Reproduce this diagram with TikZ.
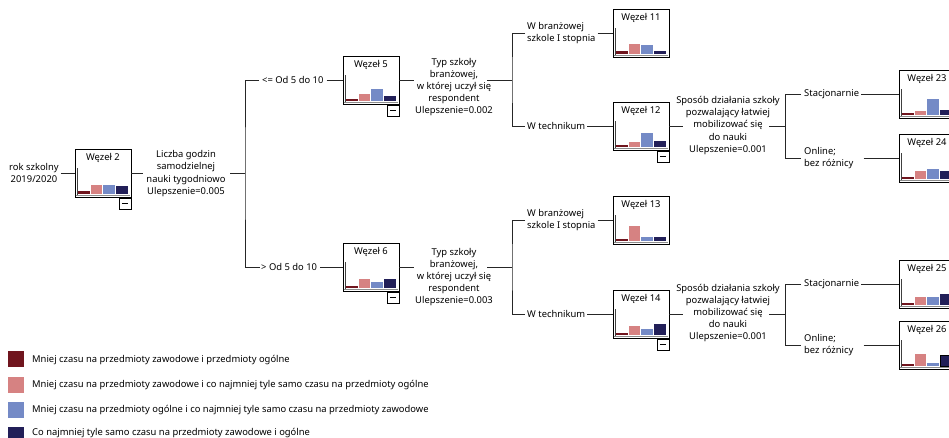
\documentclass[tikz,border=0pt]{standalone}
\usepackage{fontspec}
\setmainfont{Noto Sans}
\definecolor{cA}{RGB}{112,21,30}
\definecolor{cB}{RGB}{214,130,130}
\definecolor{cC}{RGB}{116,138,198}
\definecolor{cD}{RGB}{34,31,88}
\tikzset{
  box/.style={draw=black, line width=0.8pt, fill=white, minimum width=56pt, minimum height=48pt, inner sep=0pt},
  lbl/.style={inner sep=0pt, align=center},
  lbll/.style={inner sep=0pt, align=left, anchor=west},
  conn/.style={line width=0.8pt, draw=black!85},
  minusbox/.style={draw=black, line width=0.6pt, minimum width=12pt, minimum height=11pt, inner sep=0pt, anchor=north east, fill=white},
  legsq/.style={minimum width=16pt, minimum height=16pt, inner sep=0pt, anchor=north west},
  legtx/.style={inner sep=0pt, anchor=west}
}
\newcommand\wezel[7]{%
  \node[box] (#1) at (#2) {};
  \node[inner sep=0pt] (#1t) at ([yshift=-9pt]#1.north) {#3};
  \draw[black!45, line width=1.6pt] ([xshift=1pt,yshift=2pt]#1.south west) -- ([xshift=-1pt,yshift=2pt]#1.south east);
  \draw[black!75, line width=0.7pt] ([xshift=2.7pt,yshift=2pt]#1.south west) -- ++(0pt,27pt);
  \fill[cA] ([xshift=3.2pt,yshift=3pt]#1.south west) rectangle ++(11.8pt,#4pt);
  \fill[cB] ([xshift=16pt,yshift=3pt]#1.south west) rectangle ++(11.8pt,#5pt);
  \fill[cC] ([xshift=28.8pt,yshift=3pt]#1.south west) rectangle ++(11.8pt,#6pt);
  \fill[cD] ([xshift=41.6pt,yshift=3pt]#1.south west) rectangle ++(11.8pt,#7pt);
}
\newcommand\minusmark[1]{%
  \node[minusbox] (#1m) at ([yshift=-1pt]#1.south east) {};
  \draw[line width=0.7pt] ([xshift=3pt,yshift=-5pt]#1m.north west) -- ++(6pt,0pt);
}
\begin{document}
\begin{tikzpicture}[x=1pt, y=-1pt, font=\fontsize{9.4}{12.2}\selectfont]
\useasboundingbox (0,0) rectangle (949,438);
\clip (0,0) rectangle (949,438);
\fill[white] (0,0) rectangle (949,438);

% tree nodes
\wezel{n2}{103,173}{Węzeł 2}{3.3}{9.3}{9.3}{8.3}
\wezel{n5}{371,80}{Węzeł 5}{2.7}{7}{12}{5}
\wezel{n6}{371,267}{Węzeł 6}{2}{9.7}{6}{9.7}
\wezel{n11}{641,33}{Węzeł 11}{3.5}{10.7}{9}{3.7}
\wezel{n12}{641,126}{Węzeł 12}{2}{5}{14}{6}
\wezel{n13}{641,220}{Węzeł 13}{2.5}{15.3}{4.3}{4.3}
\wezel{n14}{641,314}{Węzeł 14}{2}{9}{6}{11.3}
\wezel{n23}{927,94}{Węzeł 23}{2.3}{4.3}{16}{5}
\wezel{n24}{927,158}{Węzeł 24}{2.3}{8.3}{10.3}{8.3}
\wezel{n25}{927,284}{Węzeł 25}{2.5}{8.3}{8.3}{11.7}
\wezel{n26}{927,345}{Węzeł 26}{2}{12}{3}{11}
\draw[black, line width=0.8pt] ([xshift=41.6pt,yshift=3pt]n26.south west) rectangle ++(11.8pt,11pt);
\minusmark{n2}
\minusmark{n5}
\minusmark{n6}
\minusmark{n12}
\minusmark{n14}

% labels
\node[lbl] (root) at (34,173) {rok szkolny\\2019/2020};
\node[lbl] (s2) at (186,173.5) {Liczba godzin\\samodzielnej\\nauki tygodniowo\\Ulepszenie=0.005};
\node[lbll] (e5) at (262,80) {<= Od 5 do 10};
\node[lbll] (e6) at (261,267) {> Od 5 do 10};
\node[lbl] (s5) at (454,87) {Typ szkoły\\branżowej,\\w której uczył się\\respondent\\Ulepszenie=0.002};
\node[lbl] (s6) at (454,277) {Typ szkoły\\branżowej,\\w której uczył się\\respondent\\Ulepszenie=0.003};
\node[lbll] (e11) at (527,33) {W branżowej\\szkole I stopnia};
\node[lbll] (e12) at (527,126) {W technikum};
\node[lbll] (e13) at (527,220) {W branżowej\\szkole I stopnia};
\node[lbll] (e14) at (527,314) {W technikum};
\node[lbl] (s12) at (728,125.5) {Sposób działania szkoły\\pozwalający łatwiej\\mobilizować się\\do nauki\\Ulepszenie=0.001};
\node[lbl] (s14) at (728,313) {Sposób działania szkoły\\pozwalający łatwiej\\mobilizować się\\do nauki\\Ulepszenie=0.001};
\node[lbll] (e23) at (804,94) {Stacjonarnie};
\node[lbll] (e24) at (804,158) {Online;\\bez różnicy};
\node[lbll] (e25) at (804,284) {Stacjonarnie};
\node[lbll] (e26) at (804,345) {Online;\\bez różnicy};

% gap coordinates
\coordinate (g2a) at (143,173);
\coordinate (g2b) at (230,173);
\coordinate (bus1) at (245,173);
\coordinate (g5a) at (414,80);
\coordinate (g5b) at (487,80);
\coordinate (bus5) at (512,80);
\coordinate (g6a) at (414,267);
\coordinate (g6b) at (487,267);
\coordinate (bus6) at (512,267);
\coordinate (g12a) at (683,126);
\coordinate (g12b) at (769,126);
\coordinate (bus12) at (785,126);
\coordinate (g14a) at (683,314);
\coordinate (g14b) at (769,314);
\coordinate (bus14) at (785,314);

% connectors
\draw[conn] ([xshift=2pt]root.east) -- (n2.west);
\draw[conn] (n2.east) -- (g2a);
\draw[conn] (g2b) -- (bus1);
\draw[conn] ([xshift=-3pt]e5.west) -| (bus1) |- ([xshift=-1pt]e6.west);
\draw[conn] ([xshift=3pt]e5.east) -- (n5.west);
\draw[conn] ([xshift=3pt]e6.east) -- (n6.west);

\draw[conn] (n5.east) -- (g5a);
\draw[conn] (g5b) -- (bus5);
\draw[conn] ([xshift=-2pt]e11.west) -| (bus5) |- ([xshift=-2pt]e12.west);
\draw[conn] ([xshift=2pt]e11.east) -- (n11.west);
\draw[conn] ([xshift=2pt]e12.east) -- (n12.west);

\draw[conn] (n6.east) -- (g6a);
\draw[conn] (g6b) -- (bus6);
\draw[conn] ([xshift=-2pt]e13.west) -| (bus6) |- ([xshift=-2pt]e14.west);
\draw[conn] ([xshift=2pt]e13.east) -- (n13.west);
\draw[conn] ([xshift=2pt]e14.east) -- (n14.west);

\draw[conn] (n12.east) -- (g12a);
\draw[conn] (g12b) -- (bus12);
\draw[conn] ([xshift=-3pt]e23.west) -| (bus12) |- ([xshift=-3pt]e24.west);
\draw[conn] ([xshift=2pt]e23.east) -- (n23.west);
\draw[conn] ([xshift=10pt]e24.east) -- (n24.west);

\draw[conn] (n14.east) -- (g14a);
\draw[conn] (g14b) -- (bus14);
\draw[conn] ([xshift=-3pt]e25.west) -| (bus14) |- ([xshift=-3pt]e26.west);
\draw[conn] ([xshift=2pt]e25.east) -- (n25.west);
\draw[conn] ([xshift=10pt]e26.east) -- (n26.west);

% legend
\node[legsq, fill=cA] (q1) at (8,351) {};
\node[legsq, fill=cB] (q2) at (8,376.5) {};
\node[legsq, fill=cC] (q3) at (8,402) {};
\node[legsq, fill=cD] (q4) at (8,427) {};
\node[legtx] (t1) at (32,360) {Mniej czasu na przedmioty zawodowe i przedmioty ogólne};
\node[legtx] (t2) at (32,385) {Mniej czasu na przedmioty zawodowe i co najmniej tyle samo czasu na przedmioty ogólne};
\node[legtx] (t3) at (32,410) {Mniej czasu na przedmioty ogólne i co najmniej tyle samo czasu na przedmioty zawodowe};
\node[legtx] (t4) at (32,433) {Co najmniej tyle samo czasu na przedmioty zawodowe i ogólne};
\end{tikzpicture}
\end{document}
